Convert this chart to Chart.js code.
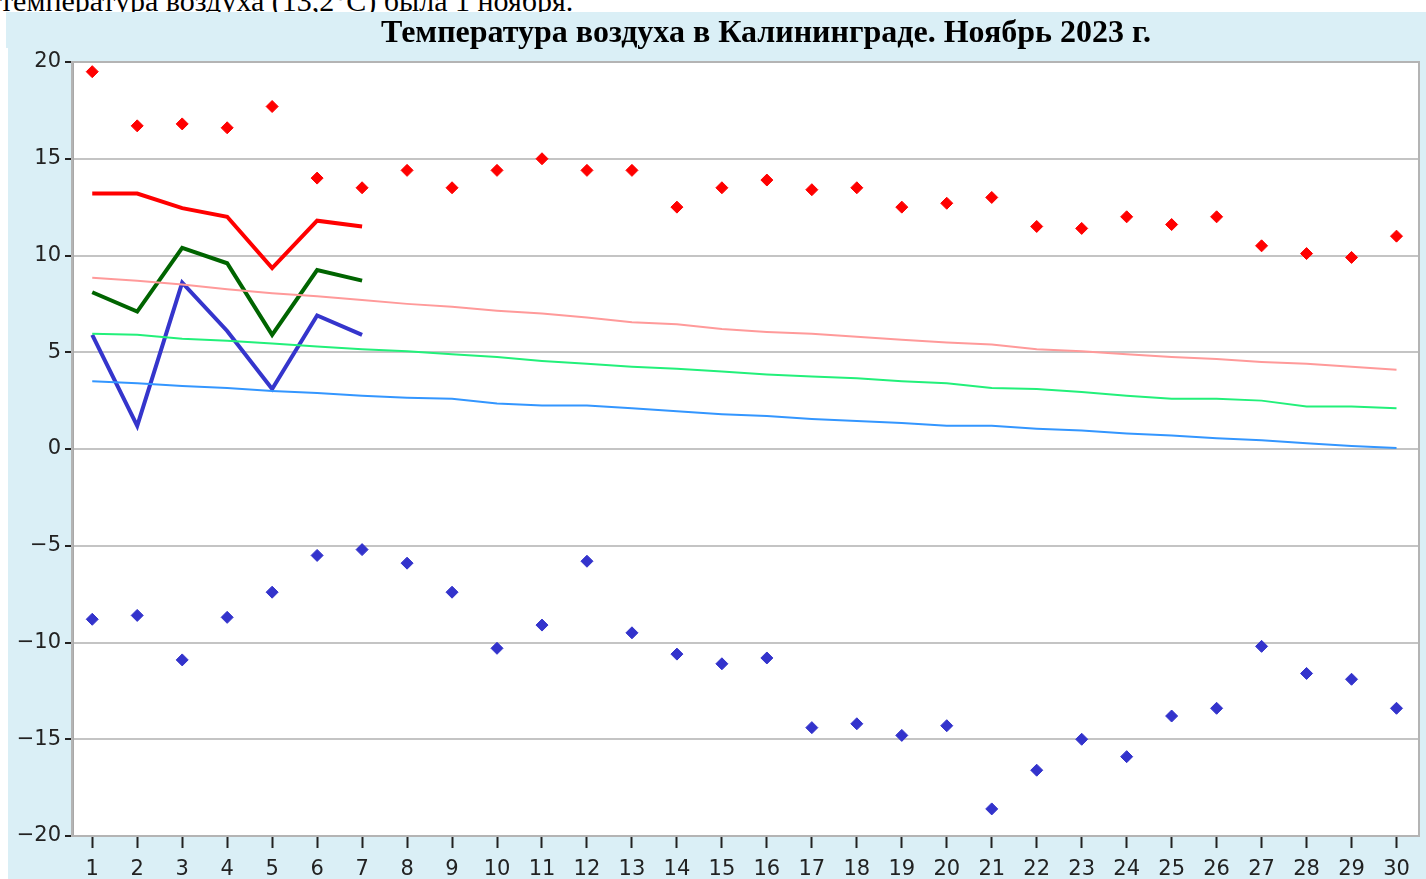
<!DOCTYPE html>
<html lang="ru">
<head>
<meta charset="utf-8">
<title>Температура воздуха в Калининграде. Ноябрь 2023 г.</title>
<script src="https://cdn.jsdelivr.net/npm/chart.js@4/dist/chart.umd.min.js"></script>
<style>
  html, body { margin: 0; padding: 0; background: #fff; overflow: hidden; }
  #intro {
    position: absolute; left: 0; top: -16px;
    font: 30px "Liberation Serif", "Times New Roman", serif; color: #000;
    white-space: nowrap;
  }
  #wrap {
    position: absolute; left: 8px; top: 12px; width: 1418px; height: 880px;
    background: #daeff6;
  }
  #title {
    position: absolute; left: -2px; top: 0; width: 1420px; height: 36px;
    background: #daeff6;
    font: bold 32px "Liberation Serif", "Times New Roman", serif; color: #000;
    text-align: left; line-height: 38px; padding-left: 375px; box-sizing: border-box;
    white-space: nowrap;
  }
  #tempChart { position: absolute; left: 0; top: 0; }
</style>
</head>
<body>
<div id="intro">температура воздуха (13,2°C) была 1 ноября.</div>
<div id="wrap">
  <canvas id="tempChart" width="1418" height="880"></canvas>
  <div id="title">Температура воздуха в Калининграде. Ноябрь 2023 г.</div>
</div>
<script>
const days = [];
for (let d = 1; d <= 30; d++) days.push(d);

// абсолютный максимум / минимум по дням
const recordMax = [19.5, 16.7, 16.8, 16.6, 17.7, 14.0, 13.5, 14.4, 13.5, 14.4,
  15.0, 14.4, 14.4, 12.5, 13.5, 13.9, 13.4, 13.5, 12.5, 12.7,
  13.0, 11.5, 11.4, 12.0, 11.6, 12.0, 10.5, 10.1, 9.9, 11.0];
const recordMin = [-8.8, -8.6, -10.9, -8.7, -7.4, -5.5, -5.2, -5.9, -7.4, -10.3,
  -9.1, -5.8, -9.5, -10.6, -11.1, -10.8, -14.4, -14.2, -14.8, -14.3,
  -18.6, -16.6, -15.0, -15.9, -13.8, -13.4, -10.2, -11.6, -11.9, -13.4];

// нормы
const normMax = [8.85, 8.7, 8.5, 8.25, 8.05, 7.9, 7.7, 7.5, 7.35, 7.15,
  7.0, 6.8, 6.55, 6.45, 6.2, 6.05, 5.95, 5.8, 5.65, 5.5,
  5.4, 5.15, 5.05, 4.9, 4.75, 4.65, 4.5, 4.4, 4.25, 4.1];
const normMean = [5.95, 5.9, 5.7, 5.6, 5.45, 5.3, 5.15, 5.05, 4.9, 4.75,
  4.55, 4.4, 4.25, 4.15, 4.0, 3.85, 3.75, 3.65, 3.5, 3.4,
  3.15, 3.1, 2.95, 2.75, 2.6, 2.6, 2.5, 2.2, 2.2, 2.1];
const normMin = [3.5, 3.4, 3.25, 3.15, 3.0, 2.9, 2.75, 2.65, 2.6, 2.35,
  2.25, 2.25, 2.1, 1.95, 1.8, 1.7, 1.55, 1.45, 1.35, 1.2,
  1.2, 1.05, 0.95, 0.8, 0.7, 0.55, 0.45, 0.3, 0.15, 0.05];

// фактические значения (1-7 ноября)
const factMax = [13.2, 13.2, 12.45, 12.0, 9.35, 11.8, 11.5];
const factMean = [8.1, 7.1, 10.4, 9.6, 5.9, 9.25, 8.7];
const factMin = [5.9, 1.2, 8.6, 6.1, 3.1, 6.9, 5.9];

const yTicks = [-20, -15, -10, -5, 0, 5, 10, 15, 20];

function pts(arr) {
  return arr.map((v, i) => ({ x: days[i], y: v }));
}

function lineSet(label, arr, color, width) {
  return {
    label: label,
    data: pts(arr),
    borderColor: color,
    borderWidth: width,
    pointRadius: 0,
    fill: false,
    tension: 0,
  };
}

function dotSet(label, arr, color) {
  return {
    label: label,
    data: pts(arr),
    showLine: false,
    pointStyle: "rectRot",
    pointRadius: 6,
    pointBackgroundColor: color,
    pointBorderColor: color,
    pointBorderWidth: 1,
  };
}

const plotBg = {
  id: "plotBg",
  beforeDraw(chart) {
    const a = chart.chartArea;
    const ctx = chart.ctx;
    ctx.save();
    ctx.fillStyle = "#ffffff";
    ctx.fillRect(a.left, a.top, a.right - a.left, a.bottom - a.top);
    ctx.restore();
  },
  beforeDatasetsDraw(chart) {
    const a = chart.chartArea;
    const ctx = chart.ctx;
    ctx.save();
    ctx.strokeStyle = "#b4b4b4";
    ctx.lineWidth = 2;
    ctx.strokeRect(a.left, a.top, a.right - a.left, a.bottom - a.top);
    ctx.restore();
  },
};

const ctx = document.getElementById("tempChart").getContext("2d");
new Chart(ctx, {
  type: "line",
  data: {
    datasets: [
      lineSet("Норма макс.", normMax, "#ff9a9a", 2),
      lineSet("Норма ср.", normMean, "#22f07a", 2),
      lineSet("Норма мин.", normMin, "#3396ff", 2),
      lineSet("Макс.", factMax, "#ff0000", 4),
      lineSet("Сред.", factMean, "#006400", 4),
      lineSet("Мин.", factMin, "#3535cc", 4),
      dotSet("Абс. макс.", recordMax, "#ff0000"),
      dotSet("Абс. мин.", recordMin, "#3333cc"),
    ],
  },
  options: {
    responsive: false,
    animation: false,
    layout: { padding: { top: 50, right: 4, left: 0, bottom: 0 } },
    plugins: {
      legend: { display: false },
      title: { display: false },
      tooltip: { enabled: false },
    },
    scales: {
      x: {
        type: "linear",
        min: 0.55,
        max: 30.5,
        afterBuildTicks: (s) => {
          s.ticks = days.map((d) => ({ value: d }));
        },
        afterFit: (s) => {
          s.height = 56;
        },
        border: { display: false },
        grid: {
          drawOnChartArea: false,
          drawTicks: true,
          tickLength: 12,
          tickWidth: 2,
          tickColor: "#222",
        },
        ticks: {
          autoSkip: false,
          maxRotation: 0,
          padding: 9,
          color: "#222",
          font: { family: "DejaVu Sans", size: 21 },
          callback: (v) => String(v),
        },
      },
      y: {
        min: -20,
        max: 20,
        afterBuildTicks: (s) => {
          s.ticks = yTicks.map((v) => ({ value: v }));
        },
        afterFit: (s) => {
          s.width = 64;
        },
        border: { display: true, color: "#a8a8a8", width: 3 },
        grid: {
          color: "#c4c4c4",
          lineWidth: 2,
          tickLength: 7,
          tickWidth: 2,
          tickColor: "#222",
        },
        ticks: {
          padding: 4,
          color: "#222",
          font: { family: "DejaVu Sans", size: 21 },
          callback: (v) => String(v).replace("-", "\u2212"),
        },
      },
    },
  },
  plugins: [plotBg],
});
</script>
</body>
</html>
